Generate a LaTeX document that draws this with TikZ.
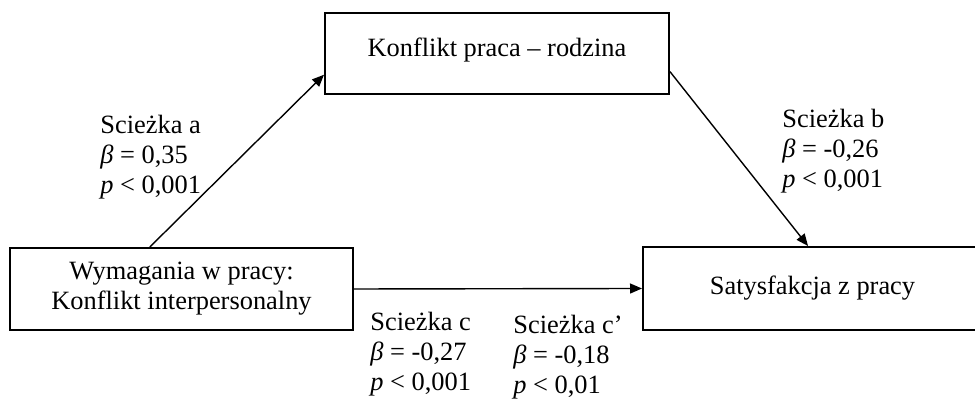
\documentclass[tikz,border=0pt]{standalone}
\usepackage{fontspec}
\setmainfont{Liberation Serif}
\usepackage{tikz}
\usetikzlibrary{arrows.meta}

\begin{document}
\begin{tikzpicture}[x=0.5pt,y=-0.5pt,
        box/.style={draw,rectangle,line width=1pt,align=center,font=\fontsize{13.2}{15}\selectfont},
        path/.style={line width=0.7pt,-{Triangle[length=6pt,width=5pt]}},
        pathlabel/.style={anchor=north west,inner sep=0pt,align=left,font=\fontsize{13.2}{15}\selectfont}]
        \clip (0,0) rectangle (975,399);

        \coordinate (k) at (497,53.5);
        \coordinate (w) at (181.5,289);
        \coordinate (s) at (812.5,288.5);

        \node[box,minimum width=172pt,minimum height=40.5pt,text depth=6.5pt] (ktr) at (k){Konflikt praca -- rodzina};
        \node[box,minimum width=171.5pt,minimum height=41pt] (wym) at (w){Wymagania w pracy:\\Konflikt interpersonalny};
        \node[box,minimum width=169.5pt,minimum height=41.5pt] (sat) at (s){Satysfakcja z pracy};

        \draw[path] (wym.127.5) -- (ktr.187);
        \draw[path] (ktr.-6.5) -- (sat.96);
        \draw[path] (wym.east) -- (sat.west);

        \node[pathlabel] (la) at (100,115){Scieżka a\\\textit{β} = 0,35\\\textit{p} < 0,001};
        \node[pathlabel] (lb) at (782,109){Scieżka b\\\textit{β} = -0,26\\\textit{p} < 0,001};
        \node[pathlabel] (lc) at (370,312){Scieżka c\\\textit{β} = -0,27\\\textit{p} < 0,001};
        \node[pathlabel] (ld) at (513,315){Scieżka c’\\\textit{β} = -0,18\\\textit{p} < 0,01};
    \end{tikzpicture}
\end{document}
